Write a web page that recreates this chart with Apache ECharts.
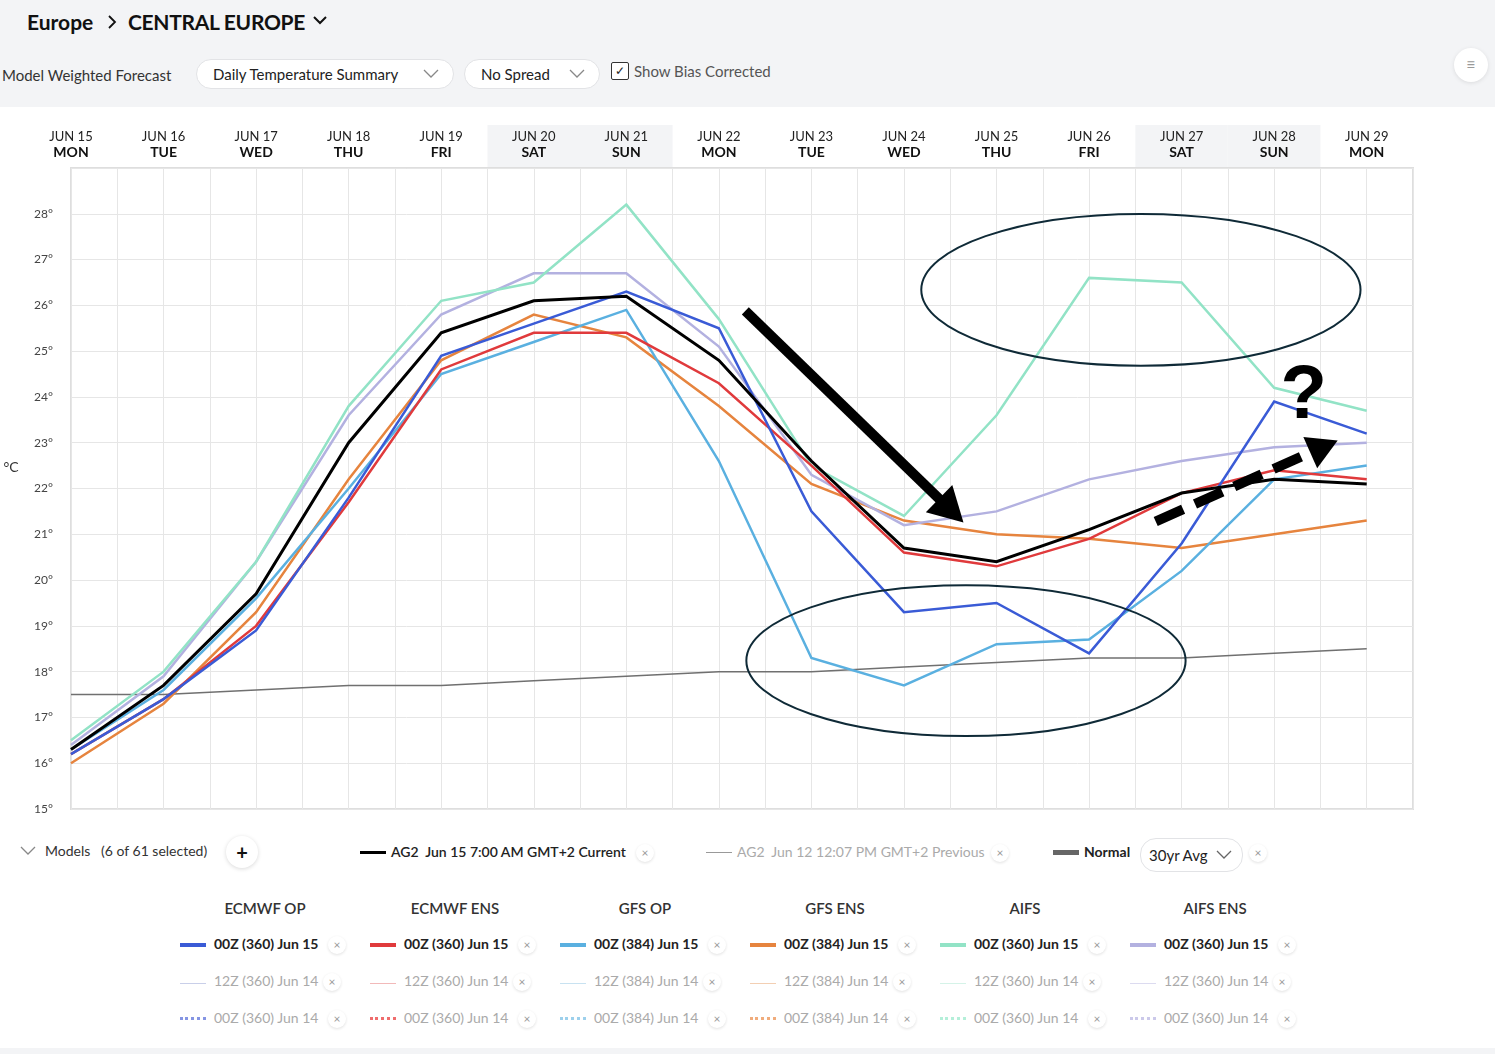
<!DOCTYPE html>
<html>
<head>
<meta charset="utf-8">
<script src="https://cdn.jsdelivr.net/npm/echarts@6/dist/echarts.min.js"></script>
<style>
  html, body { margin:0; padding:0; }
  body { width:1495px; height:1054px; background:#f3f4f6; font-family:Lato,"Noto Sans",sans-serif; color:#222; position:relative; overflow:hidden; }
  .abs { position:absolute; white-space:nowrap; }
  #panel { position:absolute; left:0; top:107px; width:1495px; height:941px; background:#fff; }
  #chart { position:absolute; left:0; top:107px; width:1495px; height:720px; }
  .pill { position:absolute; height:30px; border:1px solid #e2e3e6; border-radius:16px; background:#fff; font-size:15px; color:#222; display:flex; align-items:center; box-sizing:border-box; padding:0 14px 0 16px; justify-content:space-between; }
  .x { position:absolute; width:18px; height:18px; border-radius:50%; background:#fff; box-shadow:0 1px 3px rgba(0,0,0,0.12); color:#999; font-size:12px; line-height:18px; text-align:center; }
  .sw { position:absolute; width:26px; }
  .colhead { position:absolute; width:180px; text-align:center; font-size:15px; font-weight:600; color:#333; }
  .item { position:absolute; font-size:14px; }
</style>
</head>
<body>
<div id="panel"></div>

<!-- Header -->
<div class="abs" style="left:27px;top:9px;font-size:21px;font-weight:700;color:#111;">Europe</div>
<svg class="abs" style="left:106px;top:14px" width="12" height="16"><polyline points="3,2 9,8 3,14" fill="none" stroke="#111" stroke-width="1.8"/></svg>
<div class="abs" style="left:128px;top:9px;font-size:21px;font-weight:700;color:#111;letter-spacing:-0.3px;">CENTRAL EUROPE</div>
<svg class="abs" style="left:312px;top:14px" width="16" height="12"><polyline points="2,3 8,9 14,3" fill="none" stroke="#111" stroke-width="2"/></svg>

<div class="abs" style="left:2px;top:66px;font-size:15px;color:#333;">Model Weighted Forecast</div>
<div class="pill" style="left:196px;top:59px;width:258px;"><span>Daily Temperature Summary</span><svg width="16" height="10"><polyline points="1,1 8,8 15,1" fill="none" stroke="#888" stroke-width="1.3"/></svg></div>
<div class="pill" style="left:464px;top:59px;width:136px;"><span>No Spread</span><svg width="16" height="10"><polyline points="1,1 8,8 15,1" fill="none" stroke="#888" stroke-width="1.3"/></svg></div>
<div class="abs" style="left:611px;top:62px;width:16px;height:16px;border:1.5px solid #333;border-radius:2px;background:#fff;font-size:12px;line-height:16px;text-align:center;color:#222;">✓</div>
<div class="abs" style="left:634px;top:62px;font-size:15px;color:#555;">Show Bias Corrected</div>
<div class="abs" style="left:1454px;top:48px;width:34px;height:34px;border-radius:50%;background:#fff;box-shadow:0 1px 4px rgba(0,0,0,0.1);text-align:center;line-height:32px;color:#999;font-size:16px;">≡</div>

<div id="chart"></div>

<!-- Legend top row -->
<svg class="abs" style="left:20px;top:846px" width="16" height="10"><polyline points="1,1 8,8 15,1" fill="none" stroke="#888" stroke-width="1.3"/></svg>
<div class="abs" style="left:45px;top:842px;font-size:14px;color:#333;">Models&nbsp;&nbsp;&nbsp;(6 of 61 selected)</div>
<div class="abs" style="left:226px;top:836px;width:32px;height:32px;border-radius:50%;background:#fff;box-shadow:0 1px 4px rgba(0,0,0,0.15);text-align:center;line-height:32px;font-size:20px;font-weight:700;color:#111;">+</div>
<div class="sw" style="left:360px;top:851px;border-top:3px solid #000;"></div>
<div class="abs" style="left:391px;top:843px;font-size:14px;font-weight:600;color:#222;">AG2&nbsp; Jun 15 7:00 AM GMT+2 Current</div>
<div class="x" style="left:636px;top:844px;">×</div>
<div class="sw" style="left:706px;top:852px;border-top:1px solid #999;"></div>
<div class="abs" style="left:737px;top:843px;font-size:14px;color:#aaa;">AG2&nbsp; Jun 12 12:07 PM GMT+2 Previous</div>
<div class="x" style="left:991px;top:844px;">×</div>
<div class="sw" style="left:1053px;top:850px;border-top:5px solid #666;"></div>
<div class="abs" style="left:1084px;top:843px;font-size:14px;font-weight:700;color:#222;">Normal</div>
<div class="pill" style="left:1140px;top:838px;width:103px;height:34px;padding:0 10px 0 8px;"><span>30yr Avg</span><svg width="16" height="10"><polyline points="1,1 8,8 15,1" fill="none" stroke="#666" stroke-width="1.3"/></svg></div>
<div class="x" style="left:1249px;top:844px;">×</div>

<div id="legendCols"></div>

<script>
// ---------- DATA ----------
const dateLabels = ['JUN 15','JUN 16','JUN 17','JUN 18','JUN 19','JUN 20','JUN 21','JUN 22','JUN 23','JUN 24','JUN 25','JUN 26','JUN 27','JUN 28','JUN 29'];
const weekdayLabels = ['MON','TUE','WED','THU','FRI','SAT','SUN','MON','TUE','WED','THU','FRI','SAT','SUN','MON'];
const weekendDays = [5, 6, 12, 13];
const yTickMin = 15, yTickMax = 29;

const ag2Current = [16.3, 17.7, 19.7, 23.0, 25.4, 26.1, 26.2, 24.8, 22.6, 20.7, 20.4, 21.1, 21.9, 22.2, 22.1];
const ecmwfOp    = [16.2, 17.4, 18.9, 21.8, 24.9, 25.6, 26.3, 25.5, 21.5, 19.3, 19.5, 18.4, 20.8, 23.9, 23.2];
const ecmwfEns   = [16.2, 17.4, 19.0, 21.7, 24.6, 25.4, 25.4, 24.3, 22.5, 20.6, 20.3, 20.9, 21.9, 22.4, 22.2];
const gfsOp      = [16.3, 17.6, 19.6, 22.0, 24.5, 25.2, 25.9, 22.6, 18.3, 17.7, 18.6, 18.7, 20.2, 22.2, 22.5];
const gfsEns     = [16.0, 17.3, 19.3, 22.2, 24.8, 25.8, 25.3, 23.8, 22.1, 21.3, 21.0, 20.9, 20.7, 21.0, 21.3];
const aifs       = [16.5, 18.0, 20.4, 23.8, 26.1, 26.5, 28.2, 25.7, 22.5, 21.4, 23.6, 26.6, 26.5, 24.2, 23.7];
const aifsEns    = [16.4, 17.9, 20.4, 23.6, 25.8, 26.7, 26.7, 25.1, 22.3, 21.2, 21.5, 22.2, 22.6, 22.9, 23.0];
const normal30yr = [17.5, 17.5, 17.6, 17.7, 17.7, 17.8, 17.9, 18.0, 18.0, 18.1, 18.2, 18.3, 18.3, 18.4, 18.5];

// legend model groups
const modelNames = ['ECMWF OP','ECMWF ENS','GFS OP','GFS ENS','AIFS','AIFS ENS'];
const modelRuns  = ['360','360','384','384','360','360'];
const modelColors = ['#3a5bd6','#e03a3c','#5ab0e0','#e6843e','#92e3c6','#b3b1e0'];
const modelFaint  = ['#c9cfe9','#f2b9b9','#c8e2f1','#f3cfb3','#d5f3e8','#dcdbf0'];
const modelDotted = ['#8595e3','#ef6d6d','#9dd0ec','#f0ac7c','#b4efd9','#cbc9ea'];

// unit label position on the y scale
const unitLabel = { text: '°C', atValue: 22.46 };

// hand-drawn annotations, in data coordinates (day index, °C)
const ellipses = [
  { cx: 11.56, cy: 26.34, rx: 2.373, ry: 1.658 },
  { cx: 9.67,  cy: 18.24, rx: 2.373, ry: 1.647 }
];
const arrows = [
  { from: [7.286, 25.88], to: [9.643, 21.26], dashed: false, headLen: 34, headHalf: 19 },
  { from: [11.72, 21.28], to: [13.686, 23.05], dashed: true, headLen: 30, headHalf: 17 }
];
const questionMark = { at: [13.32, 23.99], text: '?' };

// ---------- LEGEND COLUMNS ----------
(function(){
  const host = document.getElementById('legendCols');
  let html = '';
  modelNames.forEach((name, c) => {
    const dx = 190 * c;
    html += `<div class="colhead" style="left:${175+dx}px;top:899px;">${name}</div>`;
    html += `<div class="sw" style="left:${180+dx}px;top:943px;border-top:4px solid ${modelColors[c]};"></div>`;
    html += `<div class="item" style="left:${214+dx}px;top:935px;font-weight:700;color:#222;">00Z (${modelRuns[c]}) Jun 15</div>`;
    html += `<div class="x" style="left:${328+dx}px;top:936px;">×</div>`;
    html += `<div class="sw" style="left:${180+dx}px;top:983px;border-top:1px solid ${modelFaint[c]};"></div>`;
    html += `<div class="item" style="left:${214+dx}px;top:972px;color:#aaa;">12Z (${modelRuns[c]}) Jun 14</div>`;
    html += `<div class="x" style="left:${323+dx}px;top:973px;">×</div>`;
    html += `<div class="sw" style="left:${180+dx}px;top:1017px;border-top:3px dotted ${modelDotted[c]};"></div>`;
    html += `<div class="item" style="left:${214+dx}px;top:1009px;color:#aaa;">00Z (${modelRuns[c]}) Jun 14</div>`;
    html += `<div class="x" style="left:${328+dx}px;top:1010px;">×</div>`;
  });
  host.innerHTML = html;
})();

// ---------- CHART ----------
const chart = echarts.init(document.getElementById('chart'), null, { renderer: 'canvas' });
const toXY = arr => arr.map((v, i) => [i, v]);
const lastX = dateLabels.length - 1 + 0.5;

function lineSeries(name, data, color, width, z) {
  return {
    name, type: 'line', data: toXY(data), xAxisIndex: 0, yAxisIndex: 0,
    showSymbol: false, symbol: 'none', animation: false, z: z,
    lineStyle: { color, width, join: 'miter' }, emphasis: { disabled: true }
  };
}

const option = {
  animation: false,
  textStyle: { fontFamily: 'Lato, "Noto Sans", sans-serif' },
  grid: [
    { left: 71, right: 82, top: 61, bottom: 18, show: true, borderColor: '#dedede', borderWidth: 2, backgroundColor: '#fff' },
    { left: 71, right: 82, top: 18, height: 42 }
  ],
  xAxis: [
    { type: 'value', gridIndex: 0, min: 0, max: lastX, interval: 0.5,
      axisLabel: { show: false }, axisTick: { show: false }, axisLine: { show: false },
      splitLine: { show: true, lineStyle: { color: '#e6e6e6', width: 1 } } },
    { type: 'value', gridIndex: 1, position: 'top', min: 0, max: lastX, interval: 1, z: 20,
      axisLine: { show: false }, axisTick: { show: false }, splitLine: { show: false },
      axisLabel: {
        inside: true, margin: 4, hideOverlap: false, showMinLabel: true, showMaxLabel: true,
        formatter: v => (Number.isInteger(v) && v < dateLabels.length) ? `{a|${dateLabels[v]}}\n{b|${weekdayLabels[v]}}` : '',
        rich: {
          a: { fontSize: 13, color: '#222', lineHeight: 15, fontFamily: 'Lato' },
          b: { fontSize: 14, fontWeight: 'bold', color: '#111', lineHeight: 16, fontFamily: 'Lato' }
        }
      } }
  ],
  yAxis: [
    { type: 'value', gridIndex: 0, min: yTickMin, max: yTickMax, interval: 1,
      axisLine: { show: false }, axisTick: { show: false },
      axisLabel: { formatter: v => v + '°', color: '#444', fontSize: 12, margin: 18, showMaxLabel: false },
      splitLine: { show: true, lineStyle: { color: '#e6e6e6', width: 1 } } },
    { type: 'value', gridIndex: 1, min: 0, max: 1, show: false }
  ],
  series: [
    { type: 'line', xAxisIndex: 1, yAxisIndex: 1, data: [], silent: true, z: 0, zlevel: 0,
      markArea: { silent: true, z: 0, itemStyle: { color: '#f3f4f6' },
        data: weekendDays.map(d => [{ xAxis: d - 0.5 }, { xAxis: d + 0.5 }]) } },
    lineSeries('Normal', normal30yr, '#707070', 1.5, 2),
    lineSeries('GFS ENS', gfsEns, modelColors[3], 2.5, 3),
    lineSeries('AIFS ENS', aifsEns, modelColors[5], 2.5, 3),
    lineSeries('AIFS', aifs, modelColors[4], 2.5, 3),
    lineSeries('GFS OP', gfsOp, modelColors[2], 2.5, 4),
    lineSeries('ECMWF ENS', ecmwfEns, modelColors[1], 2.5, 4),
    lineSeries('ECMWF OP', ecmwfOp, modelColors[0], 2.5, 5),
    lineSeries('AG2 Current', ag2Current, '#000000', 3, 6)
  ]
};
chart.setOption(option);

// ---------- ANNOTATIONS (positioned through the chart's scales) ----------
function px(pt) { return chart.convertToPixel({ gridIndex: 0 }, pt); }
const gfx = [];
{
  const u = px([0, unitLabel.atValue]);
  gfx.push({ type: 'text', z: 50, silent: true, x: u[0] - 60, y: u[1],
    style: { text: unitLabel.text, fill: '#333', font: '14px Lato, "Noto Sans", sans-serif', align: 'center', verticalAlign: 'middle' } });
}
ellipses.forEach(e => {
  const c = px([e.cx, e.cy]);
  const r = px([e.cx + e.rx, e.cy - e.ry]);
  gfx.push({ type: 'ellipse', z: 100, silent: true,
    shape: { cx: c[0], cy: c[1], rx: r[0] - c[0], ry: r[1] - c[1] },
    style: { fill: 'none', stroke: '#0f2a37', lineWidth: 2 } });
});
arrows.forEach(a => {
  const p0 = px(a.from), p1 = px(a.to);
  const dx = p1[0] - p0[0], dy = p1[1] - p0[1];
  const len = Math.hypot(dx, dy), ux = dx / len, uy = dy / len;
  const bx = p1[0] - ux * a.headLen, by = p1[1] - uy * a.headLen;
  gfx.push({ type: 'line', z: 101, silent: true,
    shape: { x1: p0[0], y1: p0[1], x2: bx + ux * 2, y2: by + uy * 2 },
    style: { stroke: '#000', lineWidth: 10, lineCap: 'butt', lineDash: a.dashed ? [30, 13] : null } });
  gfx.push({ type: 'polygon', z: 101, silent: true,
    shape: { points: [[p1[0], p1[1]], [bx - uy * a.headHalf, by + ux * a.headHalf], [bx + uy * a.headHalf, by - ux * a.headHalf]] },
    style: { fill: '#000' } });
});
{
  const q = px(questionMark.at);
  gfx.push({ type: 'text', z: 102, silent: true, x: q[0], y: q[1],
    style: { text: questionMark.text, fill: '#000', font: 'bold 76px "Liberation Sans", Arial, sans-serif', align: 'center', verticalAlign: 'middle' } });
}
chart.setOption({ graphic: gfx });
</script>
</body>
</html>
